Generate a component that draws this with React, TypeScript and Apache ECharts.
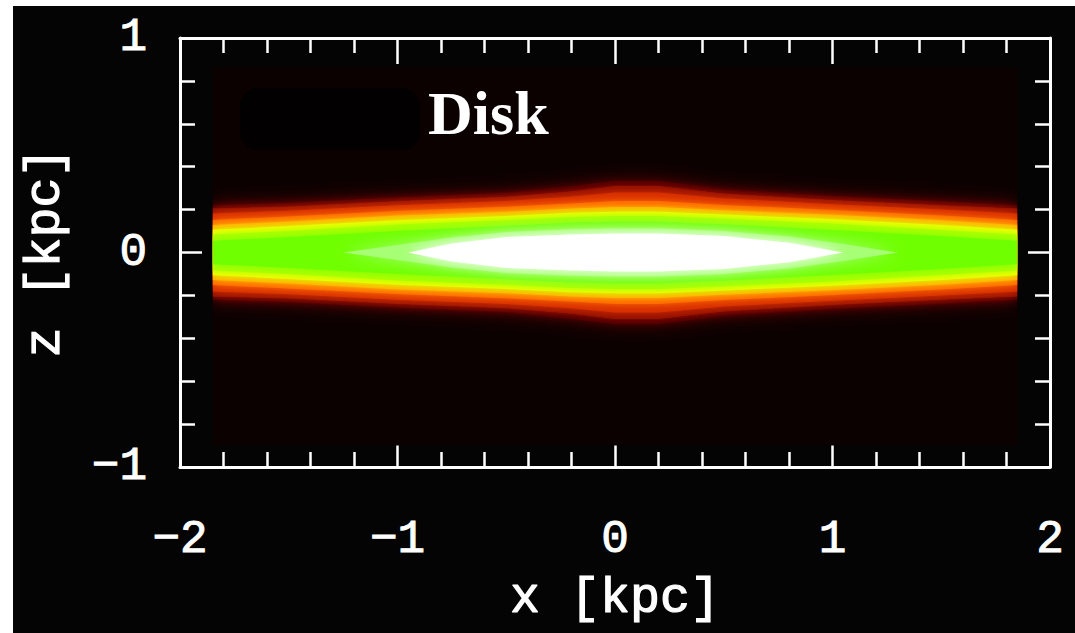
import React, { useEffect, useRef } from "react";
import * as echarts from "echarts";

// x positions (kpc) where the disk's outer isodensity half-thickness was read
const xs = [-1.85, -1.5, -1.0, -0.5, -0.2, 0, 0.2, 0.5, 1.0, 1.5, 1.85];

// half-thickness (kpc) of each density level, outermost to innermost
const haloH = [0.222, 0.232, 0.258, 0.28, 0.31, 0.335, 0.335, 0.295, 0.265, 0.24, 0.222];
const darkRedH = [0.205, 0.215, 0.24, 0.26, 0.285, 0.31, 0.31, 0.275, 0.245, 0.22, 0.205];
const redH = [0.182, 0.195, 0.22, 0.24, 0.26, 0.28, 0.28, 0.252, 0.225, 0.2, 0.182];
const orangeH = [0.152, 0.168, 0.193, 0.213, 0.228, 0.24, 0.24, 0.222, 0.198, 0.173, 0.152];
const amberH = [0.128, 0.145, 0.172, 0.19, 0.205, 0.212, 0.212, 0.197, 0.176, 0.15, 0.128];
const yellowH = [0.106, 0.123, 0.15, 0.17, 0.185, 0.19, 0.19, 0.177, 0.155, 0.128, 0.106];
const yellowGreenH = [0.084, 0.1, 0.13, 0.15, 0.165, 0.17, 0.17, 0.157, 0.135, 0.105, 0.084];
const greenH = [0.055, 0.072, 0.1, 0.125, 0.14, 0.145, 0.145, 0.132, 0.105, 0.077, 0.055];
// the two innermost levels only exist near the centre
const lightGreenX = [-1.25, -1.0, -0.75, -0.5, -0.2, 0, 0.2, 0.5, 0.8, 1.05, 1.3];
const lightGreenH = [0, 0.035, 0.07, 0.095, 0.108, 0.112, 0.112, 0.1, 0.075, 0.04, 0];
const whiteX = [-0.95, -0.75, -0.5, -0.2, 0, 0.2, 0.5, 0.8, 1.05];
const whiteH = [0, 0.042, 0.072, 0.084, 0.088, 0.088, 0.077, 0.045, 0];

const levelXs = [xs, xs, xs, xs, xs, xs, xs, xs, lightGreenX, whiteX];
const levelHeights = [haloH, darkRedH, redH, orangeH, amberH, yellowH, yellowGreenH, greenH, lightGreenH, whiteH];
const levelColors = ["#3c0400", "#8e0e00", "#d42c00", "#ff6400", "#ffa800", "#f4ff00", "#b4ff00", "#70ff00", "#a6ff74", "#ffffff"];
const levelBlur = [22, 14, 12, 12, 10, 10, 10, 12, 16, 12];

// extent of the faint map background (kpc)
const mapX = [-1.85, 1.85];
const mapZ = [-0.9, 0.86];

const xTicks = [-2, -1, 0, 1, 2];
const zTicks = [-1, 0, 1];

const fmt = (v: number) => String(v).replace("-", "\u2212");
const monoFont = "Liberation Mono";

export default function App() {
  const ref = useRef<HTMLDivElement>(null);
  useEffect(() => {
    const chart = echarts.init(ref.current!, null, { renderer: "svg" });
    const tickStyle = { color: "#fff", width: 2.5 };
    const labelStyle = {
      color: "#fff",
      fontSize: 46,
      fontFamily: monoFont,
      fontWeight: "normal" as const,
      textBorderColor: "#fff",
      textBorderWidth: 1,
    };
    const nameStyle = {
      color: "#fff",
      fontSize: 50,
      fontFamily: monoFont,
      fontWeight: "normal" as const,
      textBorderColor: "#fff",
      textBorderWidth: 1.2,
    };
    const mkX = (pos: "bottom" | "top", labels: boolean) => ({
      type: "value",
      position: pos,
      min: xTicks[0],
      max: xTicks[xTicks.length - 1],
      interval: 1,
      axisLine: { show: true, onZero: false, lineStyle: { color: "#fff", width: 3 } },
      axisTick: { show: true, inside: true, length: 26, lineStyle: tickStyle },
      minorTick: { show: true, splitNumber: 5, length: 15, lineStyle: tickStyle },
      splitLine: { show: false },
      axisLabel: { show: labels, margin: 50, formatter: fmt, ...labelStyle },
      name: labels ? "x [kpc]" : "",
      nameLocation: "middle",
      nameGap: 106,
      nameTextStyle: nameStyle,
    });
    const mkY = (pos: "left" | "right", labels: boolean) => ({
      type: "value",
      position: pos,
      min: zTicks[0],
      max: zTicks[zTicks.length - 1],
      interval: 1,
      axisLine: { show: true, onZero: false, lineStyle: { color: "#fff", width: 3 } },
      axisTick: { show: true, inside: true, length: 22, lineStyle: tickStyle },
      minorTick: { show: true, splitNumber: 5, length: 15, lineStyle: tickStyle },
      splitLine: { show: false },
      axisLabel: { show: labels, margin: 33, formatter: fmt, ...labelStyle },
      name: labels ? "z [kpc]" : "",
      nameLocation: "middle",
      nameGap: 110,
      nameTextStyle: nameStyle,
    });

    const clipFor = (api: any) => {
      const p0 = api.coord([mapX[0], 1]);
      const p1 = api.coord([mapX[1], -1]);
      return { type: "rect", shape: { x: p0[0], y: p0[1], width: p1[0] - p0[0], height: p1[1] - p0[1] } };
    };

    chart.setOption({
      animation: false,
      backgroundColor: "#050404",
      grid: { left: 180, right: 25, top: 38, bottom: 166, show: false },
      xAxis: [mkX("bottom", true), mkX("top", false)],
      yAxis: [mkY("left", true), mkY("right", false)],
      graphic: [
        { type: "rect", left: 0, top: 0, shape: { width: 1075, height: 6 }, style: { fill: "#fff" }, silent: true },
        { type: "rect", left: 0, top: 0, shape: { width: 13, height: 633 }, style: { fill: "#fff" }, silent: true },
        { type: "rect", left: 240, top: 88, shape: { width: 180, height: 62, r: 18 }, style: { fill: "#020000" }, silent: true, z: 100 },
        {
          type: "text",
          left: 428,
          top: 82,
          z: 100,
          style: { text: "Disk", fill: "#fff", font: "bold 62px 'Liberation Serif'" },
        },
      ],
      series: [
        {
          type: "custom",
          name: "map",
          xAxisIndex: 0,
          yAxisIndex: 0,
          data: [[0]],
          z: 1,
          renderItem: (params: any, api: any) => {
            const p0 = api.coord([mapX[0], mapZ[1]]);
            const p1 = api.coord([mapX[1], mapZ[0]]);
            return {
              type: "rect",
              shape: { x: p0[0], y: p0[1], width: p1[0] - p0[0], height: p1[1] - p0[1] },
              style: { fill: "#0b0101" },
            };
          },
        },
        {
          type: "custom",
          name: "disk",
          xAxisIndex: 0,
          yAxisIndex: 0,
          data: levelHeights.map((_, i) => [i]),
          z: 2,
          renderItem: (params: any, api: any) => {
            const i = params.dataIndex;
            const h = levelHeights[i];
            const lx = levelXs[i];
            const color = levelColors[i];
            const top = lx.map((x, k) => api.coord([x, h[k]]));
            const bottom = lx.map((x, k) => api.coord([x, -h[k]])).reverse();
            return {
              type: "group",
              clipPath: clipFor(api),
              children: [
                {
                  type: "polygon",
                  shape: { points: [...top, ...bottom] },
                  style: { fill: color, shadowBlur: levelBlur[i], shadowColor: color },
                },
              ],
            };
          },
        },
      ],
    });
    return () => chart.dispose();
  }, []);
  return (
    <div
      ref={ref}
      style={{ position: "fixed", left: 0, top: 0, width: 1075, height: 633 }}
    />
  );
}
